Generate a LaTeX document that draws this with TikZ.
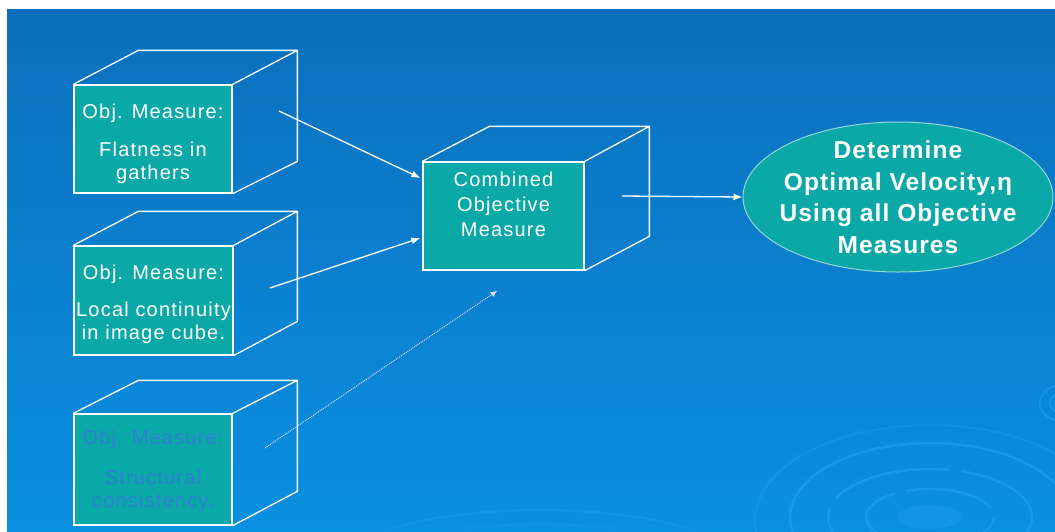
\documentclass[tikz,border=0pt]{standalone}
\usepackage{fontspec}
\setmainfont{Liberation Sans}
\newfontfamily\cubefont[LetterSpace=6]{Liberation Sans}
\newfontfamily\ellfont[LetterSpace=4.5]{Liberation Sans}
\usetikzlibrary{arrows.meta,shapes.geometric}
\definecolor{bgtop}{HTML}{0B6FBC}
\definecolor{bgbot}{HTML}{0A90E0}
\definecolor{facecol}{HTML}{0AA8A6}
\definecolor{embtext}{HTML}{2E80D4}
\definecolor{ripcol}{HTML}{2AA8F8}
\newcommand\facetext[4]{\parbox[c][#1][t]{#2}{\centering\vspace*{#3}#4}}
\tikzset{
  facebox/.style={rectangle, draw=white, line width=1.3pt, fill=facecol, inner sep=0pt,
    font=\cubefont\fontsize{20}{23}\selectfont, text=white},
  edge/.style={draw=white, line width=1.3pt, line join=round},
  conn/.style={draw=white, line width=1.3pt, -{Latex[length=9pt,width=7pt]}},
  dconn/.style={draw=white!85!blue, line width=1pt, densely dotted, -{Latex[length=7pt,width=6pt]}},
  ripple/.style={draw=ripcol, opacity=0.45, line width=2.5pt},
}
\begin{document}
\begin{tikzpicture}[x=1pt,y=-1pt]
\useasboundingbox (0,0) rectangle (1055,531);
\fill[white] (0,0) rectangle (1055,531);
\shade[top color=bgtop, bottom color=bgbot] (7,9) rectangle (1055,531);
% ripples
\begin{scope}
\clip (7,9) rectangle (1055,531);
\draw[ripple] (930,517) ellipse [x radius=140, y radius=74];
\draw[ripple, dash pattern=on 120pt off 12pt] (930,517) ellipse [x radius=102, y radius=48];
\draw[ripple, dash pattern=on 90pt off 10pt] (930,517) ellipse [x radius=64, y radius=28];
\fill[ripcol, opacity=0.25] (930,517) ellipse [x radius=32, y radius=12];
\draw[ripple, opacity=0.25] (930,520) ellipse [x radius=175, y radius=95];
\draw[ripple, opacity=0.4, line width=2pt] (1062,403) ellipse [x radius=22, y radius=18];
\draw[ripple, opacity=0.4, line width=2pt] (1062,403) ellipse [x radius=12, y radius=10];
\draw[ripple, opacity=0.2] (540,560) ellipse [x radius=190, y radius=50];
\draw[ripple, opacity=0.15] (540,560) ellipse [x radius=140, y radius=36];
\end{scope}
% cube 1
\node[facebox, minimum width=158pt, minimum height=108pt] (f1) at (153,139)
  {\facetext{108pt}{158pt}{19pt}{Obj. Measure:\\[15pt]Flatness in\\gathers}};
\draw[edge] (f1.north west) -- ++(65pt,34pt) -- ++(159pt,0pt) coordinate (b1)
  -- (f1.north east) (b1) -- ++(0pt,-111pt) -- (f1.south east);
% cube 2
\node[facebox, minimum width=159pt, minimum height=109pt] (f2) at (153.5,300.5)
  {\facetext{109pt}{159pt}{19pt}{Obj. Measure:\\[14pt]Local continuity\\in image cube.}};
\draw[edge] (f2.north west) -- ++(65pt,34pt) -- ++(159pt,0pt) coordinate (b2)
  -- (f2.north east) (b2) -- ++(0pt,-110pt) -- (f2.south east);
% cube 3
\node[facebox, minimum width=158pt, minimum height=111pt, text=embtext] (f3) at (153,469.5)
  {\facetext{111pt}{158pt}{16pt}{Obj. Measure:\\[17pt]Structural\\consistency.}};
\draw[edge] (f3.north west) -- ++(65pt,33pt) -- ++(159pt,0pt) coordinate (b3)
  -- (f3.north east) (b3) -- ++(0pt,-111pt) -- (f3.south east);
% centre cube
\node[facebox, minimum width=161pt, minimum height=108pt] (c) at (503.5,216)
  {\parbox[c][108pt][t]{161pt}{\centering\vspace*{10pt}\baselineskip=25pt Combined\\Objective\\Measure\par}};
\draw[edge] (c.north west) -- ++(67pt,35pt) -- ++(160pt,0pt) coordinate (bc)
  -- (c.north east) (bc) -- ++(0pt,-110pt) -- (c.south east);
% ellipse
\node[ellipse, fill=facecol, draw=white!55!facecol, line width=1pt, minimum width=310pt,
  minimum height=150pt, inner xsep=-20pt, inner ysep=-6pt, align=center, text=white,
  font=\ellfont\bfseries\fontsize{24.5}{31.5}\selectfont] (e) at (898,197)
  {Determine\\Optimal Velocity,η\\Using all Objective\\Measures};
% connectors
\coordinate (s1) at (279,111);
\coordinate (s2) at (270,288);
\coordinate (s3) at (265,448);
\coordinate (s4) at (622,196);
\draw[conn] (s1) -- ([yshift=38pt,xshift=-2pt]c.west);
\draw[conn] (s2) -- ([yshift=-22pt,xshift=-2pt]c.west);
\draw[dconn] (s3) -- ([xshift=-6pt,yshift=-20pt]c.south);
\draw[conn] (s4) -- (e.west);
\end{tikzpicture}
\end{document}
